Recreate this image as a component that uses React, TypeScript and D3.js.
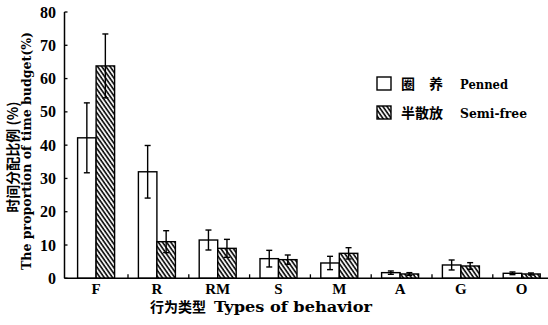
import React from 'react';
import * as d3 from 'd3';

// behaviour categories and time budget (%) for the two groups
const categories = ['F', 'R', 'RM', 'S', 'M', 'A', 'G', 'O'];
const penned = [42.2, 32.0, 11.5, 5.9, 4.6, 1.7, 4.0, 1.5];
const pennedErr = [10.5, 7.9, 3.0, 2.5, 2.0, 0.5, 1.5, 0.4];
const semiFree = [63.8, 11.0, 9.0, 5.6, 7.5, 1.3, 3.7, 1.3];
const semiFreeErr = [9.6, 3.3, 2.7, 1.4, 1.7, 0.4, 1.0, 0.3];
const yTicks = [0, 10, 20, 30, 40, 50, 60, 70, 80];

const W = 548;
const H = 325;
const axisX = 64.5;
const axisY = 278.3;
const barW = 18.5;
const shift = -1.5;

const cjkFont = "'Noto Sans CJK SC', sans-serif";
const latinFont = "'DejaVu Serif', 'Liberation Serif', serif";
const serifFont = "'Liberation Serif', 'DejaVu Serif', serif";

const App = () => {
  const x = d3.scaleBand<string>().domain(categories).range([67.2, 553.6]).padding(0);
  const y = d3.scaleLinear().domain([0, 80]).range([axisY, 12]);

  const series = [
    { key: 'penned', values: penned, errs: pennedErr, fill: '#fff', off: -barW },
    { key: 'semi', values: semiFree, errs: semiFreeErr, fill: 'url(#hatch)', off: 0 },
  ];

  const center = (c: string) => (x(c) as number) + x.bandwidth() / 2 + shift;

  return (
    <svg width={W} height={H} style={{ position: 'absolute', left: 0, top: 0, background: '#fff' }}>
      <defs>
        <pattern id="hatch" width="3.4" height="10" patternUnits="userSpaceOnUse" patternTransform="rotate(-35)">
          <rect width="3.4" height="10" fill="#fff" />
          <line x1="1" y1="0" x2="1" y2="10" stroke="#000" strokeWidth="1.6" />
        </pattern>
      </defs>

      {/* bars */}
      {series.map(s => (
        <g key={s.key}>
          {categories.map((c, i) => (
            <rect
              key={c}
              x={center(c) + s.off}
              y={y(s.values[i])}
              width={barW}
              height={axisY - y(s.values[i])}
              fill={s.fill}
              stroke="#000"
              strokeWidth={1.4}
            />
          ))}
        </g>
      ))}

      {/* error bars */}
      {series.map(s => (
        <g key={s.key + '-err'} stroke="#000" strokeWidth={1.4}>
          {categories.map((c, i) => {
            const cx = center(c) + s.off + barW / 2;
            const top = y(s.values[i] + s.errs[i]);
            const bot = y(s.values[i] - s.errs[i]);
            return (
              <g key={c}>
                <line x1={cx} x2={cx} y1={top} y2={bot} />
                <line x1={cx - 3} x2={cx + 3} y1={top} y2={top} />
                <line x1={cx - 3} x2={cx + 3} y1={bot} y2={bot} />
              </g>
            );
          })}
        </g>
      ))}

      {/* axes */}
      <line x1={axisX} x2={axisX} y1={y(80)} y2={axisY} stroke="#000" strokeWidth={1.5} />
      <line x1={axisX} x2={W} y1={axisY} y2={axisY} stroke="#000" strokeWidth={1.5} />
      {yTicks.map(t => (
        <g key={t}>
          <line x1={axisX} x2={axisX + 3} y1={y(t)} y2={y(t)} stroke="#000" strokeWidth={1.3} />
          <text x={56} y={y(t) + 5.5} textAnchor="end" fontFamily={serifFont} fontWeight="bold" fontSize={16}>
            {t}
          </text>
        </g>
      ))}
      {categories.slice(1).map(c => (
        <line key={c} x1={x(c)} x2={x(c)} y1={axisY} y2={axisY - 4} stroke="#000" strokeWidth={1.3} />
      ))}
      {categories.map(c => (
        <text key={c} x={center(c)} y={294} textAnchor="middle" fontFamily={serifFont} fontWeight="bold" fontSize={15}>
          {c}
        </text>
      ))}

      {/* axis titles */}
      <text x={150} y={312} fontFamily={cjkFont} fontWeight="bold" fontSize={14}>
        行为类型
      </text>
      <text x={214} y={312} fontFamily={latinFont} fontWeight="bold" fontSize={14.5}
        textLength={158} lengthAdjust="spacingAndGlyphs">
        Types of behavior
      </text>
      <text transform="translate(18,157) rotate(-90)" textAnchor="middle" fontFamily={cjkFont} fontWeight="bold" fontSize={14}>
        时间分配比例 (%)
      </text>
      <text transform="translate(31,270) rotate(-90)" fontFamily={latinFont} fontWeight="bold" fontSize={12.5}
        textLength={238} lengthAdjust="spacingAndGlyphs">
        The proportion of time budget(%)
      </text>

      {/* legend */}
      <rect x={377} y={77} width={14} height={13} fill="#fff" stroke="#000" strokeWidth={1.4} />
      <text x={401} y={89} fontFamily={cjkFont} fontWeight="bold" fontSize={14}>
        圈　养
      </text>
      <text x={460} y={89} fontFamily={latinFont} fontWeight="bold" fontSize={13}
        textLength={48} lengthAdjust="spacingAndGlyphs">
        Penned
      </text>
      <rect x={377} y={106} width={14} height={13} fill="url(#hatch)" stroke="#000" strokeWidth={1.4} />
      <text x={401} y={118} fontFamily={cjkFont} fontWeight="bold" fontSize={14}>
        半散放
      </text>
      <text x={460} y={118} fontFamily={latinFont} fontWeight="bold" fontSize={13}
        textLength={67} lengthAdjust="spacingAndGlyphs">
        Semi-free
      </text>
    </svg>
  );
};

export default App;
